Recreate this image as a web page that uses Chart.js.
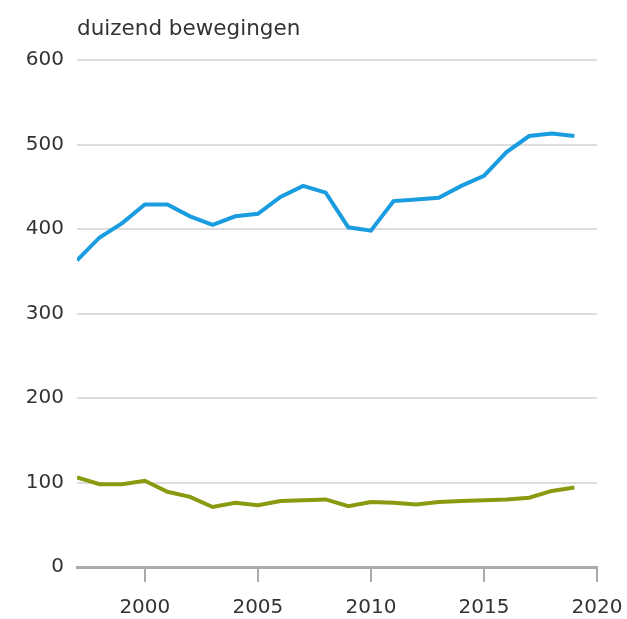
<!DOCTYPE html>
<html>
<head>
<meta charset="utf-8">
<script src="https://cdn.jsdelivr.net/npm/chart.js@4/dist/chart.umd.min.js"></script>
<style>
html,body{margin:0;padding:0;background:#fff;}
#wrap{width:627px;height:619px;position:relative;}
</style>
</head>
<body>
<div id="wrap"><canvas id="c" width="627" height="619"></canvas></div>
<script>
const years = [1997,1998,1999,2000,2001,2002,2003,2004,2005,2006,2007,2008,2009,2010,2011,2012,2013,2014,2015,2016,2017,2018,2019];
const seriesBlue = [363,390,407,429,429,415,405,415,418,438,451,443,402,398,433,435,437,451,463,491,510,513,510];
const seriesOlive = [106,98,98,102,89,83,71,76,73,78,79,80,72,77,76,74,77,78,79,80,82,90,94];
const xTicks = [2000,2005,2010,2015,2020];
const yTicks = [0,100,200,300,400,500,600];
const unitLabel = 'duizend bewegingen';

const FONT = "'DejaVu Sans', sans-serif";
const TEXT = '#333333';

const titlePlugin = {
  id: 'unitTitle',
  afterDraw(chart) {
    const ctx = chart.ctx;
    ctx.save();
    ctx.font = "21.5px " + FONT;
    ctx.fillStyle = TEXT;
    ctx.textAlign = 'left';
    ctx.textBaseline = 'middle';
    ctx.fillText(unitLabel, chart.chartArea.left, 29);
    ctx.restore();
  }
};

new Chart(document.getElementById('c'), {
  type: 'line',
  data: {
    datasets: [
      {
        data: years.map((y, i) => ({x: y, y: seriesBlue[i]})),
        borderColor: '#1a9de0',
        borderWidth: 4,
        pointRadius: 0,
        tension: 0,
        fill: false
      },
      {
        data: years.map((y, i) => ({x: y, y: seriesOlive[i]})),
        borderColor: '#8a9a10',
        borderWidth: 4,
        pointRadius: 0,
        tension: 0,
        fill: false
      }
    ]
  },
  options: {
    responsive: false,
    animation: false,
    layout: {padding: {top: 60, left: 22, right: 30, bottom: 2}},
    plugins: {legend: {display: false}, tooltip: {enabled: false}},
    scales: {
      x: {
        type: 'linear',
        min: 1997,
        max: 2020,
        afterBuildTicks: (scale) => { scale.ticks = xTicks.map(v => ({value: v})); },
        afterFit: (scale) => { scale.height = 50; scale.paddingRight = 0; scale.paddingLeft = 0; },
        grid: {drawOnChartArea: false, drawTicks: true, tickLength: 15, color: '#aaaaaa', lineWidth: 2},
        border: {display: true, color: '#aaaaaa', width: 3},
        ticks: {font: {family: FONT, size: 20}, color: TEXT, padding: 14, maxRotation: 0,
                callback: (v) => String(v)}
      },
      y: {
        min: 0,
        max: 600,
        afterBuildTicks: (scale) => { scale.ticks = yTicks.map(v => ({value: v})); },
        afterFit: (scale) => { scale.width = 55; },
        grid: {drawTicks: false, color: '#dddddd', lineWidth: 2},
        border: {display: false},
        ticks: {font: {family: FONT, size: 20}, color: TEXT, padding: 13}
      }
    }
  },
  plugins: [titlePlugin]
});
</script>
</body>
</html>
